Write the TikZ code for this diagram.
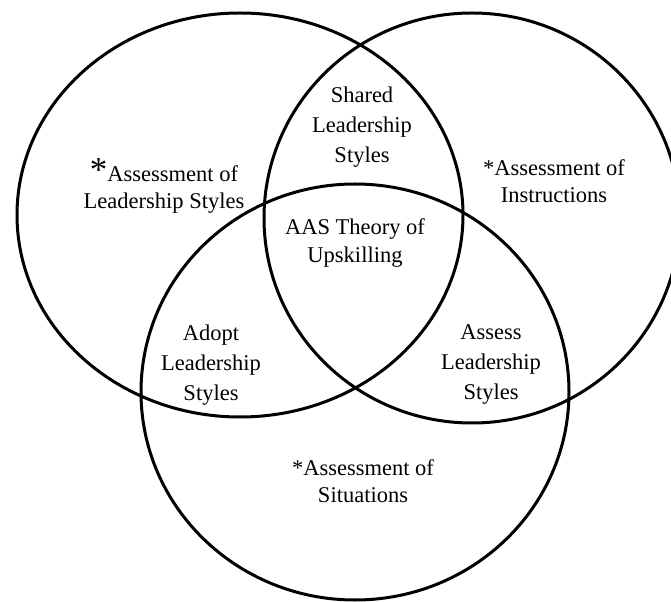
\documentclass[tikz,border=0pt]{standalone}
\usepackage{fontspec}
\setmainfont{Liberation Serif}

\tikzset{every path/.style={line width=1.8pt}}
\tikzset{venntext/.style={align=center,inner sep=0pt,font=\fontsize{13.5}{16.5}\selectfont},
         venntextt/.style={venntext,font=\fontsize{13.5}{18}\selectfont}}

\begin{document}
\begin{tikzpicture}[x=0.6pt,y=-0.6pt]
    \useasboundingbox (0,0) rectangle (671,602);
    \draw (240,215) ellipse [x radius=223, y radius=202];
    \draw (472,218) ellipse [x radius=208, y radius=205];
    \draw (355,392) ellipse [x radius=214, y radius=208];
    \node[venntext]  (lead)   at (164,186) {{\fontsize{21}{16.5}\selectfont *}Assessment of\\Leadership Styles};
    \node[venntextt] (shared) at (362,127) {Shared\\Leadership\\Styles};
    \node[venntext]  (instr)  at (554,181) {*Assessment of\\Instructions};
    \node[venntext]  (aas)    at (355,243) {AAS Theory of\\Upskilling};
    \node[venntextt] (adopt)  at (211,365) {Adopt\\Leadership\\Styles};
    \node[venntextt] (assess) at (491,365) {Assess\\Leadership\\Styles};
    \node[venntext]  (situ)   at (363,481) {*Assessment of\\Situations};
  \end{tikzpicture}
\end{document}
